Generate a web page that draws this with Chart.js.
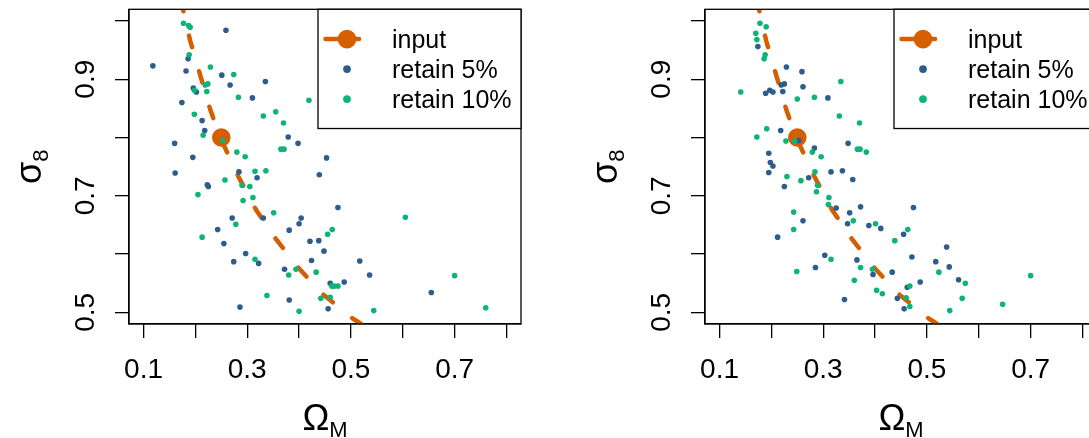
<!DOCTYPE html>
<html><head><meta charset="utf-8">
<script src="https://cdn.jsdelivr.net/npm/chart.js@4/dist/chart.umd.min.js"></script>
<style>
html,body{margin:0;padding:0;background:#fff;overflow:hidden;width:1089px;height:438px;}
canvas{position:absolute;top:0;}
</style></head>
<body>
<canvas id="c1" width="577" height="438" style="left:0px"></canvas>
<canvas id="c2" width="577" height="438" style="left:576px"></canvas>
<script>
// ---------- data ----------
const seriesNames = ['input', 'retain 5%', 'retain 10%'];
const xTicks = [0.1, 0.2, 0.3, 0.4, 0.5, 0.6, 0.7, 0.8];
const xTickLabels = ['0.1', '', '0.3', '', '0.5', '', '0.7', ''];
const yTicks = [0.5, 0.6, 0.7, 0.8, 0.9, 1.0];
const yTickLabels = ['0.5', '', '0.7', '', '0.9', ''];
const xTitle = ['\u03A9', 'M'];
const yTitle = ['\u03C3', '8'];

const inputPointX = [0.25];
const inputPointY = [0.80];
const inputLineX = [0.176, 0.190, 0.209, 0.229, 0.248, 0.283, 0.317, 0.356, 0.400, 0.446, 0.504, 0.518, 0.530];
const inputLineY = [1.020, 0.966, 0.908, 0.847, 0.800, 0.733, 0.676, 0.625, 0.575, 0.531, 0.489, 0.481, 0.472];

const left5X = [0.259,0.186,0.118,0.182,0.251,0.267,0.335,0.196,0.202,0.310,0.174,0.213,0.218,0.379,0.398,0.160,0.195,0.453,0.161,0.284,0.319,0.439,0.223,0.225,0.271,0.331,0.404,0.400,0.475,0.243,0.381,0.255,0.421,0.438,0.448,0.297,0.274,0.322,0.424,0.517,0.372,0.536,0.460,0.487,0.655,0.381,0.286,0.456];
const left5Y = [0.984,0.935,0.923,0.914,0.907,0.890,0.896,0.885,0.878,0.868,0.860,0.829,0.812,0.801,0.790,0.790,0.766,0.765,0.739,0.741,0.731,0.736,0.719,0.716,0.662,0.662,0.662,0.652,0.680,0.642,0.641,0.618,0.622,0.623,0.605,0.601,0.587,0.584,0.589,0.588,0.574,0.564,0.550,0.552,0.534,0.521,0.509,0.506];
const left10X = [0.177,0.187,0.190,0.188,0.229,0.274,0.219,0.224,0.198,0.222,0.283,0.419,0.198,0.355,0.331,0.370,0.215,0.253,0.365,0.371,0.280,0.296,0.315,0.336,0.257,0.290,0.305,0.205,0.311,0.292,0.351,0.278,0.605,0.464,0.455,0.213,0.315,0.394,0.380,0.433,0.700,0.463,0.475,0.468,0.338,0.442,0.460,0.400,0.544,0.760];
const left10Y = [0.996,0.992,0.989,0.942,0.921,0.908,0.890,0.892,0.881,0.879,0.869,0.864,0.840,0.844,0.837,0.825,0.804,0.795,0.780,0.780,0.775,0.767,0.742,0.743,0.727,0.718,0.716,0.702,0.697,0.692,0.671,0.651,0.663,0.642,0.634,0.629,0.591,0.574,0.564,0.569,0.563,0.545,0.545,0.545,0.529,0.524,0.526,0.502,0.503,0.508];

const right5X = [0.174,0.229,0.259,0.219,0.225,0.261,0.197,0.203,0.189,0.222,0.309,0.218,0.253,0.283,0.348,0.195,0.198,0.203,0.195,0.272,0.315,0.337,0.357,0.225,0.325,0.372,0.351,0.261,0.347,0.388,0.411,0.455,0.212,0.303,0.365,0.285,0.396,0.433,0.462,0.443,0.341,0.456,0.474,0.538,0.471,0.517,0.543,0.561,0.487];
const right5Y = [0.956,0.921,0.913,0.890,0.892,0.887,0.881,0.878,0.876,0.879,0.868,0.812,0.795,0.782,0.790,0.773,0.757,0.751,0.740,0.731,0.741,0.743,0.728,0.716,0.679,0.681,0.671,0.657,0.652,0.649,0.644,0.634,0.629,0.598,0.590,0.577,0.565,0.569,0.543,0.524,0.522,0.506,0.680,0.612,0.595,0.587,0.578,0.556,0.552];
const right10X = [0.178,0.190,0.170,0.172,0.188,0.186,0.334,0.141,0.250,0.283,0.331,0.370,0.191,0.172,0.228,0.245,0.366,0.371,0.383,0.279,0.296,0.230,0.257,0.284,0.289,0.287,0.311,0.310,0.243,0.358,0.401,0.243,0.463,0.438,0.315,0.249,0.372,0.395,0.360,0.403,0.414,0.460,0.467,0.467,0.523,0.700,0.574,0.568,0.646,0.544];
const right10Y = [0.996,0.990,0.979,0.968,0.942,0.935,0.896,0.878,0.866,0.869,0.837,0.825,0.815,0.801,0.794,0.794,0.780,0.780,0.775,0.775,0.767,0.733,0.726,0.741,0.718,0.707,0.697,0.685,0.672,0.657,0.652,0.642,0.642,0.623,0.591,0.570,0.577,0.574,0.555,0.538,0.532,0.525,0.545,0.510,0.569,0.563,0.550,0.524,0.514,0.503];

// ---------- styles ----------
const ORANGE = '#D55E00';
const BLUE = '#2C5D8D';
const GREEN = '#0DB477';
const FONT = "'Liberation Sans', Arial, Helvetica, sans-serif";

const pts = (xs, ys) => xs.map((x, i) => ({ x: x, y: ys[i] }));

const framePlugin = {
  id: 'rframe',
  afterDatasetsDraw(chart) {
    const a = chart.chartArea, ctx = chart.ctx;
    ctx.save();
    ctx.strokeStyle = '#000';
    ctx.lineWidth = 1.3;
    ctx.strokeRect(a.left, a.top, a.right - a.left, a.bottom - a.top);
    ctx.restore();
  },
  afterDraw(chart) {
    const a = chart.chartArea, ctx = chart.ctx;
    const ds = chart.data.datasets;
    // legend box (top right, inside plot)
    const bw = 203, bh = 119.2;
    const bx = a.right - bw, by = a.top;
    ctx.save();
    ctx.fillStyle = '#fff';
    ctx.fillRect(bx, by, bw, bh);
    ctx.strokeStyle = '#000';
    ctx.lineWidth = 1.3;
    ctx.strokeRect(bx, by, bw, bh);
    const sx = bx + 29;
    const rows = [by + 29.8, by + 59.8, by + 89.8];
    const lineDs = ds.find(d => d.isInputLine);
    const ptDs = ds.find(d => d.isInputPoint);
    ctx.strokeStyle = lineDs.borderColor;
    ctx.lineWidth = lineDs.borderWidth;
    ctx.lineCap = 'round';
    ctx.beginPath();
    ctx.moveTo(bx + 7.5, rows[0]);
    ctx.lineTo(bx + 41, rows[0]);
    ctx.stroke();
    ctx.fillStyle = ptDs.backgroundColor;
    ctx.beginPath();
    ctx.arc(sx, rows[0], ptDs.pointRadius, 0, Math.PI * 2);
    ctx.fill();
    const d5 = ds.find(d => d.label === seriesNames[1]);
    const d10 = ds.find(d => d.label === seriesNames[2]);
    ctx.fillStyle = d5.backgroundColor;
    ctx.beginPath(); ctx.arc(sx, rows[1], 3.9, 0, Math.PI * 2); ctx.fill();
    ctx.fillStyle = d10.backgroundColor;
    ctx.beginPath(); ctx.arc(sx, rows[2], 3.9, 0, Math.PI * 2); ctx.fill();
    ctx.fillStyle = '#000';
    ctx.font = '25px ' + FONT;
    ctx.textAlign = 'left';
    ctx.textBaseline = 'alphabetic';
    seriesNames.forEach((t, i) => {
      ctx.fillText(t, bx + 74, rows[i] + 8.7);
    });
    // x title: Omega_M
    const cx = (a.left + a.right) / 2;
    ctx.font = '36px ' + FONT;
    const w1 = ctx.measureText(xTitle[0]).width;
    ctx.font = '22px ' + FONT;
    const w2 = ctx.measureText(xTitle[1]).width;
    const x0 = cx - (w1 + w2) / 2;
    ctx.font = '36px ' + FONT;
    ctx.fillText(xTitle[0], x0, 430);
    ctx.font = '22px ' + FONT;
    ctx.fillText(xTitle[1], x0 + w1, 436.7);
    // y title: sigma_8 (rotated)
    const cy = (a.top + a.bottom) / 2;
    ctx.font = '36px ' + FONT;
    const v1 = ctx.measureText(yTitle[0]).width;
    ctx.font = '22px ' + FONT;
    const v2 = ctx.measureText(yTitle[1]).width;
    ctx.translate(41, cy + (v1 + v2) / 2);
    ctx.rotate(-Math.PI / 2);
    ctx.font = '36px ' + FONT;
    ctx.fillText(yTitle[0], 0, 0);
    ctx.font = '22px ' + FONT;
    ctx.fillText(yTitle[1], v1, 6.7);
    ctx.restore();
  }
};

function makeChart(id, x5, y5, x10, y10) {
  return new Chart(document.getElementById(id), {
    type: 'scatter',
    data: {
      datasets: [
        { label: seriesNames[2], data: pts(x10, y10), backgroundColor: GREEN, borderWidth: 0,
          pointRadius: 2.8, pointHoverRadius: 2.8, order: 0, clip: 0 },
        { label: seriesNames[1], data: pts(x5, y5), backgroundColor: BLUE, borderWidth: 0,
          pointRadius: 2.8, pointHoverRadius: 2.8, order: 1, clip: 0 },
        { label: seriesNames[0], isInputPoint: true, data: pts(inputPointX, inputPointY),
          backgroundColor: ORANGE, borderWidth: 0, pointRadius: 9.3, order: 2, clip: 0 },
        { label: seriesNames[0], isInputLine: true, type: 'line', data: pts(inputLineX, inputLineY),
          showLine: true, borderColor: ORANGE, borderWidth: 4.5, borderDash: [12, 25],
          borderDashOffset: 10, borderCapStyle: 'round', pointRadius: 0, fill: false,
          tension: 0, order: 3, clip: 0 }
      ]
    },
    options: {
      responsive: false,
      animation: false,
      devicePixelRatio: 1,
      events: [],
      layout: { padding: { left: 0, top: 3.5, right: 56, bottom: 0 } },
      plugins: { legend: { display: false }, tooltip: { enabled: false } },
      scales: {
        x: {
          type: 'linear', min: 0.072, max: 0.828,
          afterBuildTicks: s => { s.ticks = xTicks.map(v => ({ value: v })); },
          afterFit: s => { s.height = 114; s.paddingLeft = 0; s.paddingRight = 0; },
          ticks: { callback: (v, i) => xTickLabels[i], autoSkip: false, maxRotation: 0, minRotation: 0,
                   font: { family: FONT, size: 28 }, color: '#000', padding: 15 },
          grid: { display: true, drawOnChartArea: false, drawTicks: true, tickLength: 14,
                  color: '#000', lineWidth: 1.3 },
          border: { display: true, color: '#000', width: 1.3 },
          title: { display: false }
        },
        y: {
          type: 'linear', min: 0.48, max: 1.02,
          afterBuildTicks: s => { s.ticks = yTicks.map(v => ({ value: v })); },
          afterFit: s => { s.width = 129; s.paddingTop = 0; s.paddingBottom = 0; },
          ticks: { callback: (v, i) => yTickLabels[i], autoSkip: false, minRotation: 90, maxRotation: 90,
                   crossAlign: 'center', font: { family: FONT, size: 28 }, color: '#000', padding: 9.5 },
          grid: { display: true, drawOnChartArea: false, drawTicks: true, tickLength: 14,
                  color: '#000', lineWidth: 1.3 },
          border: { display: true, color: '#000', width: 1.3 },
          title: { display: false }
        }
      }
    },
    plugins: [framePlugin]
  });
}

makeChart('c1', left5X, left5Y, left10X, left10Y);
makeChart('c2', right5X, right5Y, right10X, right10Y);
</script>
</body></html>
